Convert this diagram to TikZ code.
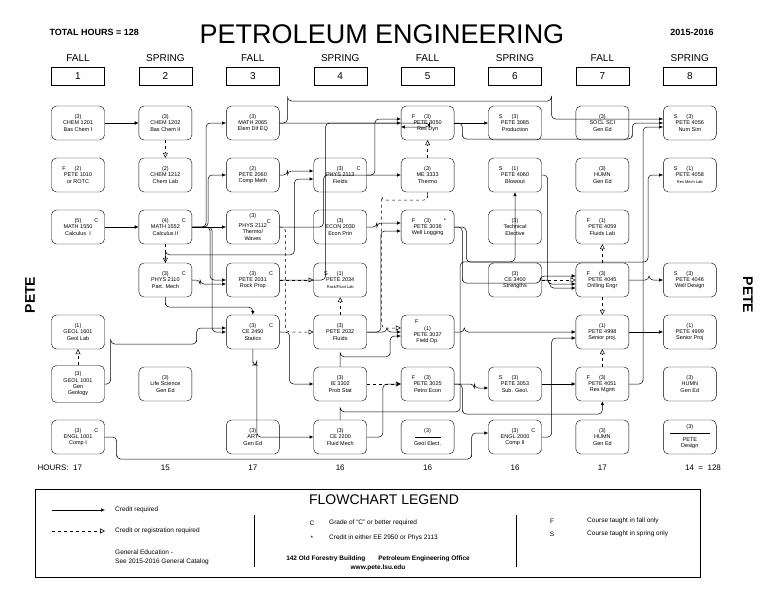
\documentclass[tikz,border=0pt]{standalone}
\usepackage{fontspec}
\setmainfont{Liberation Sans}
\usetikzlibrary{arrows.meta}
\newcommand{\Fl}[1]{\llap{#1\hspace{9pt}}}
\newcommand{\Cg}[1]{\rlap{\hspace{13pt}#1}}
\begin{document}
\begin{tikzpicture}[x=1pt,y=-1pt,
  crs/.style={draw,rounded corners=5pt,minimum width=53pt,minimum height=34pt,align=center,inner sep=1pt,font=\fontsize{5.5}{6.3}\selectfont},
  sem/.style={draw,minimum width=53pt,minimum height=18pt,inner sep=0pt,font=\fontsize{10}{10}\selectfont},
  req/.style={-{Latex[length=4pt,width=3.5pt]},rounded corners=4pt,line width=0.5pt},
  reg/.style={dashed,-{Triangle[open,length=5pt,width=5pt]},rounded corners=4pt,line width=0.5pt},
  hrs/.style={font=\fontsize{8}{8}\selectfont},
  leg/.style={font=\fontsize{6.5}{7.5}\selectfont,inner sep=1pt}
  ]
\useasboundingbox (0,0) rectangle (768,594);
% header
\node[font=\bfseries\fontsize{9}{9}\selectfont,anchor=west] (tot) at (46,32) {TOTAL HOURS = 128};
\node[font=\fontsize{27}{27}\selectfont] (title) at (382,34) {PETROLEUM ENGINEERING};
\node[font=\bfseries\fontsize{9}{9}\selectfont] (year) at (692,32) {2015-2016};
\foreach \i/\s in {1/FALL,2/SPRING,3/FALL,4/SPRING,5/FALL,6/SPRING,7/FALL,8/SPRING}{
  \node[font=\fontsize{10}{10}\selectfont] (lab\i) at ({78+87.4*(\i-1)},58) {\s};
  \node[sem] (sem\i) at ({78+87.4*(\i-1)},76) {\i};
}
\node[font=\bfseries\fontsize{14}{14}\selectfont,rotate=90] (peteL) at (30,295) {PETE};
\node[font=\bfseries\fontsize{14}{14}\selectfont,rotate=-90] (peteR) at (748,295) {PETE};
% column 1
\node[crs] (chem1201) at (78,123) {(3)\\CHEM 1201\\Bas Chem I};
\node[crs] (pete1010) at (78,175) {\Fl{F}(2)\\PETE 1010\\or ROTC};
\node[crs] (math1550) at (78,227) {(5)\Cg{C}\\MATH 1550\\Calculus\ \ I};
\node[crs] (geol1601) at (78,332) {(1)\\GEOL 1601\\Geol Lab};
\node[crs,minimum height=37pt] (geol1001) at (78,384) {(3)\\GEOL 1001\\Gen\\Geology};
\node[crs] (engl1001) at (78,437) {(3)\Cg{C}\\ENGL 1001\\Comp I};
% column 2
\node[crs] (chem1202) at (165.4,123) {(3)\\CHEM 1202\\Bas Chem II};
\node[crs] (chem1212) at (165.4,175) {(2)\\CHEM 1212\\Chem Lab};
\node[crs] (math1552) at (165.4,227) {(4)\Cg{C}\\MATH 1552\\Calculus II};
\node[crs] (phys2110) at (165.4,280) {(3)\Cg{C}\\PHYS 2110\\Part. Mech};
\node[crs] (lifesci) at (165.4,384) {(3)\\Life Science\\Gen Ed};
% column 3
\node[crs] (math2065) at (252.8,123) {(3)\\MATH 2065\\Elem Dif EQ};
\node[crs] (pete2060) at (252.8,175) {(2)\\PETE 2060\\Comp Meth};
\node[crs] (phys2112) at (252.8,227) {(3)\\PHYS 2112\rlap{\raisebox{4pt}{C}}\\Thermo/\\Waves};
\node[crs] (pete2031) at (252.8,280) {(3)\Cg{C}\\PETE 2031\\Rock Prop};
\node[crs] (ce2450) at (252.8,332) {(3)\Cg{C}\\CE 2450\\Statics};
\node[crs] (art) at (252.8,437) {(3)\\ART\\Gen Ed};
% column 4
\node[crs] (phys2113) at (340.2,175) {(3)\Cg{C}\\PHYS 2113\\Fields};
\node[crs] (econ2030) at (340.2,227) {(3)\\ECON 2030\\Econ Prin};
\node[crs] (pete2034) at (340.2,280) {\Fl{S}(1)\\PETE 2034\\{\fontsize{4}{5}\selectfont Rock/Fluid Lab}};
\node[crs] (pete2032) at (340.2,332) {(3)\\PETE 2032\\Fluids};
\node[crs] (ie3302) at (340.2,384) {(3)\\IE 3302\\Prob Stat};
\node[crs] (ce2200) at (340.2,437) {(3)\\CE 2200\\Fluid Mech};
% column 5
\node[crs] (pete3050) at (427.6,123) {\Fl{F}(3)\\PETE 3050\\Res Dyn};
\node[crs] (me3333) at (427.6,175) {(3)\\ME 3333\\Thermo};
\node[crs] (pete3036) at (427.6,227) {\Fl{F}(3)\Cg{*}\\PETE 3036\\Well Logging};
\node[crs] (pete3037) at (427.6,332) {\Fl{F}\\(1)\\PETE 3037\\Field Op.};
\node[crs] (pete3025) at (427.6,384) {\Fl{F}(3)\\PETE 3025\\Petro Econ};
\node[crs] (geolel) at (427.6,437) {(3)\\\rule[2pt]{26pt}{0.3pt}\\Geol Elect.};
% column 6
\node[crs] (pete3085) at (515,123) {\Fl{S}(3)\\PETE 3085\\Production};
\node[crs] (pete4060) at (515,175) {\Fl{S}(1)\\PETE 4060\\Blowout};
\node[crs] (techel) at (515,227) {(3)\\Technical\\Elective};
\node[crs] (ce3400) at (515,280) {(3)\\CE 3400\\Strengths};
\node[crs] (pete3053) at (515,384) {\Fl{S}(3)\\PETE 3053\\Sub. Geol.};
\node[crs] (engl2000) at (515,437) {(3)\Cg{C}\\ENGL 2000\\Comp II};
% column 7
\node[crs] (soclsci) at (602.4,123) {(3)\\SOCL SCI\\Gen Ed};
\node[crs] (humn7a) at (602.4,175) {(3)\\HUMN\\Gen Ed};
\node[crs] (pete4059) at (602.4,227) {\Fl{F}(1)\\PETE 4059\\Fluids Lab};
\node[crs] (pete4045) at (602.4,280) {\Fl{F}(3)\\PETE 4045\\Drilling Engr};
\node[crs] (pete4998) at (602.4,332) {(1)\\PETE 4998\\Senior proj.};
\node[crs] (pete4051) at (602.4,384) {\Fl{F}(3)\\PETE 4051\\Res Mgmt};
\node[crs] (humn7b) at (602.4,437) {(3)\\HUMN\\Gen Ed};
% column 8
\node[crs] (pete4056) at (689.8,123) {\Fl{S}(3)\\PETE 4056\\Num Sim};
\node[crs] (pete4058) at (689.8,175) {\Fl{S}(1)\\PETE 4058\\{\fontsize{4}{5}\selectfont Res Mech Lab}};
\node[crs] (pete4046) at (689.8,280) {\Fl{S}(3)\\PETE 4046\\Well Design};
\node[crs] (pete4999) at (689.8,332) {(1)\\PETE 4999\\Senior Proj};
\node[crs] (humn8) at (689.8,384) {(3)\\HUMN\\Gen Ed};
\node[crs] (petedes) at (689.8,437) {(3)\\\rule[2pt]{40pt}{0.3pt}\\PETE\\Design};
% hours
\node[hrs,anchor=west] (hlab) at (34,468) {HOURS:\ \ 17};
\foreach \i/\h in {2/15,3/17,4/16,5/16,6/16,7/17}{
  \node[hrs] (h\i) at ({78+87.4*(\i-1)},468) {\h};
}
\node[hrs] (h8) at (703,468) {14\ \ =\ \ 128};
% credit required
\draw[req] (chem1201) -- (chem1202);
\draw[req] (math1550) -- (math1552);
\draw[req] (math1552.east) -- ++(14,0) |- (math2065.west);
\draw[req] (math1552.east) -- ++(16,0) |- (pete2060.west);
\draw[req] (math1552) -- (phys2112);
\draw[req] (math1552.east) -- ++(18,0) |- (pete2031.west);
\draw[req] (math1552.east) -- ++(20,0) |- (ce2450.west);
\draw[req] (phys2110.east) -- ++(8,0) |- ([yshift=-4pt]pete2031.west);
\draw[req] (phys2110.south) |- ++(0,10) -| (ce2450.north);
\draw[req] (phys2110.north) |- ++(0,-8) -| ++(129,-58) |- ([yshift=-4pt]phys2113.west);
\draw[req] (geol1001.east) -- ++(6,0) |- ++(0,-40) -| ++(86,0) |- ([yshift=4pt]ce2450.west);
\draw[req] (pete2060.east) -- ++(8,0) |- ([yshift=4pt]phys2113.west);
\draw[req] (math2065.east) -- ++(150,0) |- ([yshift=-4pt]pete3050.west);
\draw[req] (math2065.east) -- ++(8,0) |- ++(0,-22) -| ++(264,0) |- ([yshift=4pt]pete4056.west);
\draw[req] (phys2113.east) -- ++(8,0) |- ([yshift=4pt]pete3050.west);
\draw[req] (pete2031.east) -- ++(46,0) |- (pete3050.west);
\draw[req] (phys2112.east) -- ++(44,0) |- (me3333.west);
\draw[req] (pete2032.east) -- ++(14,0) |- ([yshift=-4pt]pete3036.west);
\draw[req] (econ2030.east) -- ++(10,0) |- ([yshift=4pt]pete3036.west);
\draw[req] (ce2450.south) |- ++(0,16) -| ++(4,0) |- (ce2200.west);
\draw[req] (ce2450.east) -- ++(10,0) |- (ie3302.west);
\draw[req] (ce2200.east) -- ++(16,0) |- (pete3025.west);
\draw[req] (pete2032.east) -- ++(20,0) |- (pete3037.west);
\draw[req] (ie3302.north) |- ++(0,-10) -| ++(50,0) |- ([yshift=-4pt]pete3037.west);
\draw[req] (engl1001.east) -- ++(12,0) |- ++(0,22) -| ++(355,0) |- ([yshift=4pt]engl2000.west);
\draw[req] (pete3050) -- (pete3085);
\draw[req] (pete3050.east) -- ++(8,0) |- ++(0,16) -| ++(170,0) |- (pete4056.west);
\draw[req] (pete3036.east) -- ++(8,0) |- ++(0,56) -| ++(78,0) |- ([yshift=4pt]pete4045.west);
\draw[req] (pete3025.east) -- ++(8,0) |- ++(0,30) -| (pete4051.south);
\draw[req] (pete3025.east) -- ++(20,0) |- ([yshift=-4pt]pete3053.west);
\draw[req] (ce2200.north) |- ++(0,-8) -| ++(120,-150) -| (pete4060.south);
\draw[req] (pete4060.east) -- ++(6,0) |- ([yshift=-4pt]pete4045.west);
\draw[req] (ce3400.east) -- ++(8,0) |- ([yshift=-8pt]pete4045.west);
\draw[req] (pete4045.east) -- ++(20,0) |- (pete4046.west);
\draw[req] (pete3037.east) -- ++(10,0) |- (pete4998.west);
\draw[req] (pete4998) -- (pete4999);
\draw[req] (pete3053) -- (pete4051);
\draw[req] (engl2000.east) -- ++(10,0) |- ([yshift=-6pt]pete4998.west);
\draw[req] (pete4051.east) -- ++(14,0) |- ([yshift=-4pt]pete4056.west);
\draw[req] (pete3036.east) -- ++(12,0) |- (560,262) -| (648,175) -- (pete4058.west);
% credit or registration required
\draw[reg] (chem1202) -- (chem1212);
\draw[reg] (math1552) -- (phys2110);
\draw[reg] (geol1001) -- (geol1601);
\draw[reg] (me3333) -- (pete3050);
\draw[reg] (me3333.south) |- ++(0,8) -| ++(-46,0) |- ([yshift=4pt]pete3037.west);
\draw[reg] (pete2031) -- (pete2034);
\draw[reg] (pete2032) -- (pete2034);
\draw[reg] (phys2112.east) -- ++(6,0) |- (pete2032.west);
\draw[reg] (ie3302) -- (pete3025);
\draw[reg] (ce3400) -- (pete4045);
\draw[reg] (pete4045) -- (pete4059);
\draw[reg] (pete4045) -- (pete4998);
\draw[reg] (pete4051) -- (pete4998);
% legend
\draw (35,489) rectangle (700,577);
\node[font=\fontsize{14}{14}\selectfont] (leg) at (384,500) {FLOWCHART LEGEND};
\coordinate (ls1) at (52,510); \coordinate (le1) at (105,510);
\coordinate (ls2) at (52,531); \coordinate (le2) at (105,531);
\draw[req] (ls1) -- (le1);
\draw[reg] (ls2) -- (le2);
\node[leg,anchor=west] (t1) at (114,510) {Credit required};
\node[leg,anchor=west] (t2) at (114,531) {Credit or registration required};
\node[leg,anchor=west,align=left,font=\fontsize{6.5}{9}\selectfont] (t3) at (114,557) {General Education -\\See 2015-2016 General Catalog};
\draw (254,515) -- (254,567);
\draw (516,515) -- (516,567);
\node[leg] (kc) at (312,523) {C};
\node[leg,anchor=west] (kct) at (328,523) {Grade of ``C'' or better required};
\node[leg] (ks) at (312,538) {*};
\node[leg,anchor=west] (kst) at (328,538) {Credit in either EE 2950 or Phys 2113};
\node[font=\bfseries\fontsize{6.5}{9}\selectfont,align=center] (addr) at (378,563) {142 Old Forestry Building\qquad Petroleum Engineering Office\\www.pete.lsu.edu};
\node[leg] (kf) at (552,521) {F};
\node[leg,anchor=west] (kft) at (586,521) {Course taught in fall only};
\node[leg] (kS) at (552,534) {S};
\node[leg,anchor=west] (kSt) at (586,534) {Course taught in spring only};
\end{tikzpicture}
\end{document}
